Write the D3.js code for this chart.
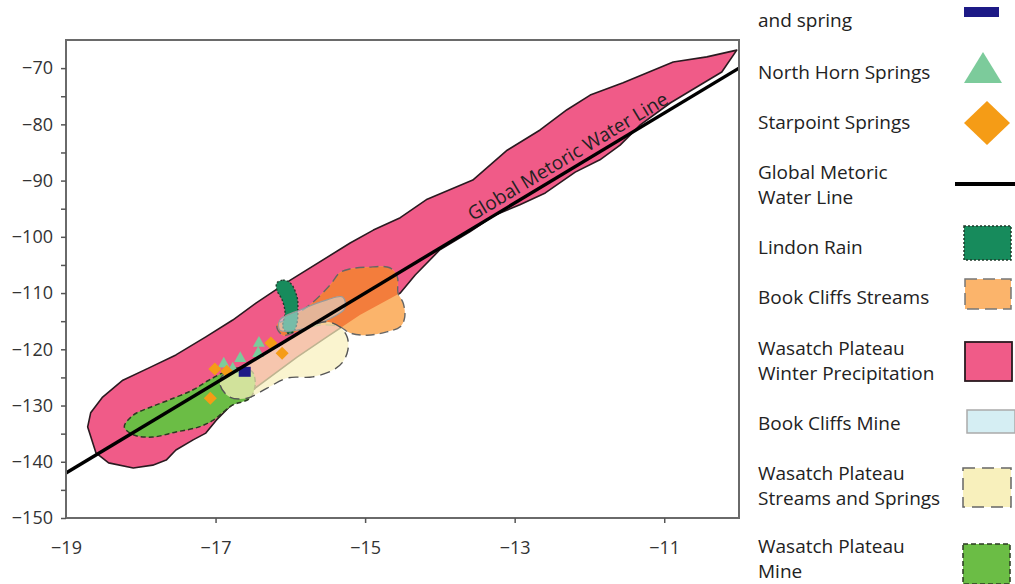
<!DOCTYPE html>
<html>
<head>
<meta charset="utf-8">
<script src="https://cdn.jsdelivr.net/npm/d3@7"></script>
<style>
  html, body { margin: 0; padding: 0; background: #fff; }
  svg { display: block; font-family: "Open Sans", "Noto Sans", sans-serif; }
</style>
</head>
<body>
<svg id="chart" width="1015" height="584"></svg>
<script>
// ---- Data (δ18O, δD) ----
const xDomain = [-19, -10];
const yDomain = [-150, -65];
const xTickValues = [-19, -17, -15, -13, -11];
const yTickValues = [-150, -140, -130, -120, -110, -100, -90, -80, -70];
const yMinorTicks = [-145, -135, -125, -115, -105, -95, -85, -75];

// Global Meteoric Water Line: δD = 8·δ18O + 10
const gmwlSlope = 8;
const gmwlIntercept = 10;
const gmwlLabel = "Global Metoric Water Line";
const gmwlLabelAt = -13.52;

const winterPrecip = [
  [-18.71,-133.8],[-18.67,-131.3],[-18.51,-128.5],[-18.24,-125.5],[-17.89,-123.3],[-17.53,-121.0],
  [-17.13,-117.8],[-16.77,-114.8],[-16.46,-111.8],[-16.00,-107.7],[-15.20,-101.1],[-14.89,-98.8],
  [-14.53,-96.6],[-14.17,-93.3],[-13.56,-89.9],[-13.10,-84.6],[-12.66,-81.0],[-12.30,-77.4],
  [-11.99,-74.8],[-11.55,-72.6],[-10.88,-68.9],[-10.43,-68.0],[-10.03,-66.8],[-10.23,-70.7],
  [-10.52,-73.0],[-10.92,-76.2],[-11.32,-80.1],[-11.59,-83.7],[-11.86,-86.3],[-12.19,-88.5],
  [-12.59,-92.2],[-12.93,-94.3],[-13.26,-96.1],[-13.60,-99.1],[-14.00,-102.3],[-14.33,-106.8],
  [-14.53,-110.0],[-15.07,-113.9],[-15.51,-117.8],[-15.91,-121.4],[-16.54,-127.6],[-16.82,-130.3],
  [-16.99,-132.6],[-17.13,-134.9],[-17.30,-136.1],[-17.53,-137.9],[-17.66,-139.7],[-17.84,-140.6],
  [-18.10,-141.1],[-18.43,-140.2],[-18.60,-138.4]
];
const wasatchMine = [
  [-18.22,-133.8],[-18.10,-131.7],[-17.89,-130.4],[-17.62,-129.0],[-17.30,-127.2],[-17.09,-125.5],
  [-16.87,-124.0],[-16.67,-123.3],[-16.51,-124.0],[-16.47,-126.3],[-16.54,-128.7],[-16.77,-129.9],
  [-16.90,-131.2],[-17.03,-132.6],[-17.22,-133.8],[-17.53,-134.7],[-17.84,-135.6],[-18.10,-135.2]
];
const lindonRain = [
  [-16.18,-108.2],[-16.10,-107.7],[-16.00,-108.2],[-15.91,-110.7],[-15.90,-113.0],[-15.91,-115.3],
  [-15.96,-116.9],[-16.04,-117.1],[-16.10,-116.0],[-16.07,-113.5],[-16.11,-111.2],[-16.18,-109.5]
];
const bookCliffsStreams = [
  [-16.18,-115.7],[-16.00,-114.4],[-15.74,-112.1],[-15.47,-108.6],[-15.34,-106.4],[-15.20,-105.7],
  [-14.97,-105.4],[-14.67,-105.5],[-14.57,-107.1],[-14.56,-110.0],[-14.49,-111.8],[-14.47,-114.3],
  [-14.53,-116.0],[-14.71,-116.9],[-14.97,-117.5],[-15.20,-117.1],[-15.34,-116.0],[-15.60,-115.7],
  [-15.87,-116.6],[-16.10,-117.5]
];
const bookCliffsMine = [
  [-16.14,-114.8],[-15.87,-113.0],[-15.51,-111.2],[-15.30,-110.7],[-15.27,-112.7],[-15.51,-114.8],
  [-15.91,-116.6],[-16.14,-116.6]
];
const wasatchStreams = [
  [-16.94,-126.3],[-16.81,-128.5],[-16.58,-128.7],[-16.31,-126.9],[-16.04,-125.1],[-15.70,-124.9],
  [-15.43,-123.7],[-15.30,-122.3],[-15.23,-120.1],[-15.24,-117.8],[-15.34,-116.0],[-15.51,-115.1],
  [-15.70,-115.7],[-15.87,-116.9],[-16.07,-118.7],[-16.30,-120.5],[-16.54,-122.3],[-16.74,-123.7],
  [-16.91,-124.7]
];

const northHornX = [-16.89, -16.67, -16.42, -16.43, -16.77];
const northHornY = [-122.4, -121.4, -118.7, -120.5, -123.3];
const starpointX = [-17.01, -16.85, -17.07, -16.26, -16.11];
const starpointY = [-123.5, -123.9, -128.7, -118.9, -120.7];
const mineSpringX = [-16.61];
const mineSpringY = [-124.0];

const legendLabels = [
  ["and spring"],
  ["North Horn Springs"],
  ["Starpoint Springs"],
  ["Global Metoric", "Water Line"],
  ["Lindon Rain"],
  ["Book Cliffs Streams"],
  ["Wasatch Plateau", "Winter Precipitation"],
  ["Book Cliffs Mine"],
  ["Wasatch Plateau", "Streams and Springs"],
  ["Wasatch Plateau", "Mine"]
];

// ---- Chart ----
const svg = d3.select("#chart");
const plot = { left: 66, right: 739, top: 40, bottom: 518 };
const x = d3.scaleLinear().domain(xDomain).range([plot.left, plot.right]);
const y = d3.scaleLinear().domain(yDomain).range([plot.bottom, plot.top]);

const C = {
  pink: "#f05b88", pinkStroke: "#2a1a20",
  mine: "#6bbd45", lindon: "#178b5c",
  orange: "#fbb46b", orangeDark: "#f37d3c",
  yellow: "#f8f0bc", blue: "#d5eef3",
  tri: "#7ccb9b", diamond: "#f59c16", navy: "#1d1a86"
};

const defs = svg.append("defs");
const line = d3.line().x(d => x(d[0])).y(d => y(d[1]));
const lineClosed = d3.line().x(d => x(d[0])).y(d => y(d[1])).curve(d3.curveLinearClosed);
const smoothClosed = d3.line().x(d => x(d[0])).y(d => y(d[1])).curve(d3.curveCatmullRomClosed.alpha(0.5));

defs.append("clipPath").attr("id", "pinkClip")
  .append("path").attr("d", lineClosed(winterPrecip));

const g = svg.append("g");

// Winter precipitation
g.append("path").attr("d", lineClosed(winterPrecip))
  .attr("fill", C.pink).attr("stroke", C.pinkStroke).attr("stroke-width", 1.6)
  .attr("stroke-linejoin", "round");

// Wasatch Plateau Mine
g.append("path").attr("d", smoothClosed(wasatchMine))
  .attr("fill", C.mine).attr("stroke", "#2b3a22").attr("stroke-width", 1.5)
  .attr("stroke-dasharray", "5,3");

// Book Cliffs Streams (lighter + darker part over pink)
g.append("path").attr("d", smoothClosed(bookCliffsStreams))
  .attr("fill", C.orange);
g.append("path").attr("d", smoothClosed(bookCliffsStreams))
  .attr("fill", C.orangeDark).attr("clip-path", "url(#pinkClip)");
g.append("path").attr("d", smoothClosed(bookCliffsStreams))
  .attr("fill", "none").attr("stroke", "#666").attr("stroke-width", 1.4)
  .attr("stroke-dasharray", "9,5");

// Lindon Rain
g.append("path").attr("d", smoothClosed(lindonRain))
  .attr("fill", C.lindon).attr("stroke", "#1f3a2a").attr("stroke-width", 1.4)
  .attr("stroke-dasharray", "2,2");

// Book Cliffs Mine
g.append("path").attr("d", smoothClosed(bookCliffsMine))
  .attr("fill", C.blue).attr("fill-opacity", 0.5)
  .attr("stroke", "#999").attr("stroke-width", 1.2);

// Wasatch streams and springs
g.append("path").attr("d", smoothClosed(wasatchStreams))
  .attr("fill", C.yellow).attr("fill-opacity", 0.72)
  .attr("stroke", "#555").attr("stroke-width", 1.4)
  .attr("stroke-dasharray", "10,6");

// Points
const tri = (cx, cy, r) => `M${cx},${cy - r}L${cx + r},${cy + r * 0.8}L${cx - r},${cy + r * 0.8}Z`;
const dia = (cx, cy, r) => `M${cx},${cy - r}L${cx + r},${cy}L${cx},${cy + r}L${cx - r},${cy}Z`;

g.selectAll(".tri").data(northHornX.map((v, i) => [v, northHornY[i]])).join("path")
  .attr("d", d => tri(x(d[0]), y(d[1]), 6)).attr("fill", C.tri);
g.selectAll(".dia").data(starpointX.map((v, i) => [v, starpointY[i]])).join("path")
  .attr("d", d => dia(x(d[0]), y(d[1]), 6.5)).attr("fill", C.diamond);
g.selectAll(".navy").data(mineSpringX.map((v, i) => [v, mineSpringY[i]])).join("rect")
  .attr("x", d => x(d[0]) - 6).attr("y", d => y(d[1]) - 5)
  .attr("width", 12).attr("height", 10).attr("fill", C.navy);

// GMWL
const gmwl = xDomain.map(v => [v, gmwlSlope * v + gmwlIntercept]);
g.append("path").attr("d", line(gmwl)).attr("stroke", "#000")
  .attr("stroke-width", 3.4).attr("fill", "none");

const angle = Math.atan2(y(gmwl[1][1]) - y(gmwl[0][1]), x(gmwl[1][0]) - x(gmwl[0][0])) * 180 / Math.PI;
g.append("text")
  .attr("transform", `translate(${x(gmwlLabelAt)},${y(gmwlSlope * gmwlLabelAt + gmwlIntercept)}) rotate(${angle})`)
  .attr("dy", -6).attr("font-size", 19).attr("fill", "#222").text(gmwlLabel);

// Frame
svg.append("rect").attr("x", plot.left).attr("y", plot.top)
  .attr("width", plot.right - plot.left).attr("height", plot.bottom - plot.top)
  .attr("fill", "none").attr("stroke", "#6a6a6a").attr("stroke-width", 2);

// Axes
const yAxis = d3.axisLeft(y).tickValues(yTickValues).tickSize(5).tickPadding(8).tickFormat(d3.format("d"));
const ya = svg.append("g").attr("transform", `translate(${plot.left},0)`).call(yAxis);
ya.select(".domain").remove();
ya.selectAll("text").attr("font-size", 18).attr("fill", "#333").attr("font-family", "Open Sans");
ya.selectAll("line").attr("stroke", "#555").attr("stroke-width", 1.5);
const yMinor = svg.append("g").attr("transform", `translate(${plot.left},0)`)
  .call(d3.axisLeft(y).tickValues(yMinorTicks).tickSize(5).tickFormat(""));
yMinor.select(".domain").remove();
yMinor.selectAll("line").attr("stroke", "#555").attr("stroke-width", 1.5);

const xAxis = d3.axisBottom(x).tickValues(xTickValues).tickSize(5).tickPadding(18).tickFormat(d3.format("d"));
const xa = svg.append("g").attr("transform", `translate(0,${plot.bottom})`).call(xAxis);
xa.select(".domain").remove();
xa.selectAll("text").attr("font-size", 18).attr("fill", "#333").attr("font-family", "Open Sans");
xa.selectAll("line").attr("stroke", "#555").attr("stroke-width", 1.5);
xa.selectAll(".tick").filter(d => d === xDomain[0]).select("line").remove();

// Legend
const legendBaselines = [[27], [79], [129], [179, 204], [254], [304], [355, 380], [430], [480, 505], [553, 578]];
const lg = svg.append("g").attr("font-size", 19).attr("fill", "#222");
legendLabels.forEach((lines, i) => {
  lines.forEach((t, j) => {
    lg.append("text").attr("x", 758).attr("y", legendBaselines[i][j]).text(t);
  });
});
const sym = svg.append("g");
sym.append("rect").attr("x", 964).attr("y", 7).attr("width", 35).attr("height", 10).attr("fill", C.navy);
sym.append("path").attr("d", "M983,52L1002,83L964,83Z").attr("fill", C.tri);
sym.append("path").attr("d", "M987,101L1010,123L987,145L964,123Z").attr("fill", C.diamond);
sym.append("line").attr("x1", 955).attr("x2", 1015).attr("y1", 184).attr("y2", 184)
  .attr("stroke", "#000").attr("stroke-width", 4);
sym.append("rect").attr("x", 964).attr("y", 226).attr("width", 47).attr("height", 34)
  .attr("fill", C.lindon).attr("stroke", "#1f3a2a").attr("stroke-width", 1.5).attr("stroke-dasharray", "2,2");
sym.append("rect").attr("x", 965).attr("y", 279).attr("width", 46).attr("height", 30)
  .attr("fill", C.orange).attr("stroke", "#777").attr("stroke-width", 1.5).attr("stroke-dasharray", "12,6");
sym.append("rect").attr("x", 965).attr("y", 342).attr("width", 47).attr("height", 39)
  .attr("fill", C.pink).attr("stroke", C.pinkStroke).attr("stroke-width", 1.8);
sym.append("rect").attr("x", 967).attr("y", 410).attr("width", 48).attr("height", 23)
  .attr("fill", C.blue).attr("stroke", "#aaa").attr("stroke-width", 1.5);
sym.append("rect").attr("x", 963).attr("y", 468).attr("width", 48).attr("height", 39)
  .attr("fill", C.yellow).attr("stroke", "#666").attr("stroke-width", 1.5).attr("stroke-dasharray", "12,7");
sym.append("rect").attr("x", 963).attr("y", 544).attr("width", 47).attr("height", 40)
  .attr("fill", C.mine).attr("stroke", "#2b3a22").attr("stroke-width", 1.5).attr("stroke-dasharray", "5,3");
</script>
</body>
</html>
